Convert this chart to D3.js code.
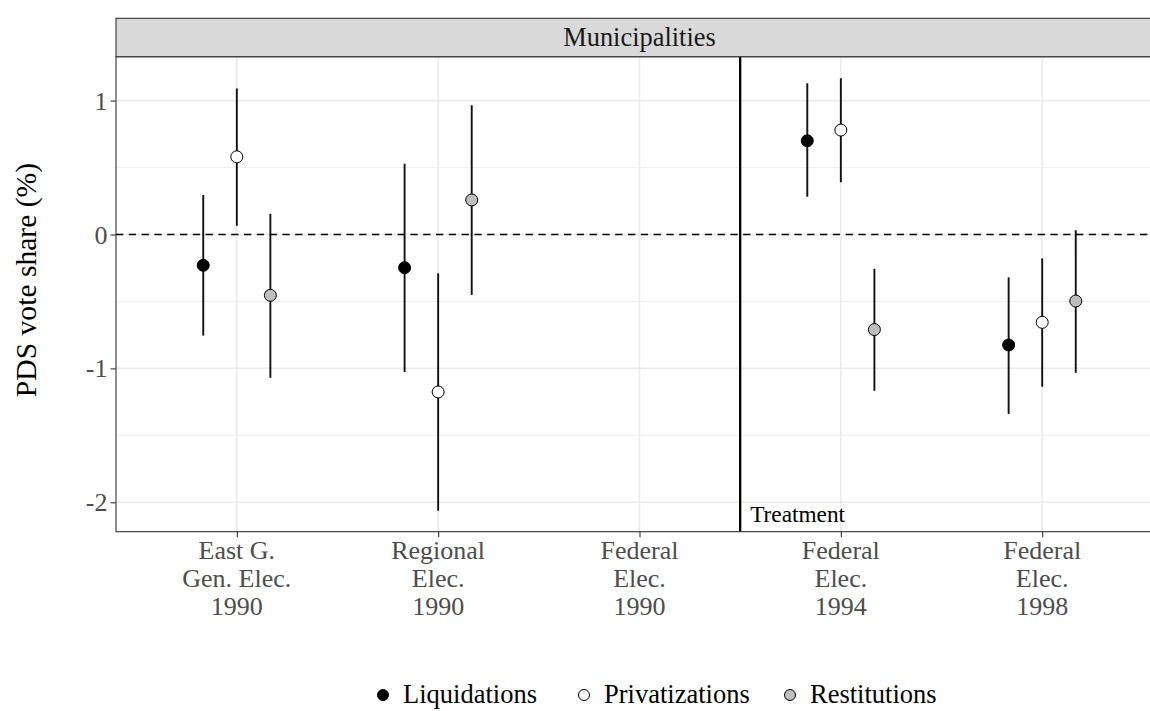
<!DOCTYPE html>
<html>
<head>
<meta charset="utf-8">
<script src="https://cdn.jsdelivr.net/npm/d3@7/dist/d3.min.js"></script>
<style>
    body { margin: 0; background: #fff; }
    svg { display: block; }
</style>
</head>
<body>
<svg id="chart"></svg>
<script>
// election categories (tick labels, one entry per line)
const categories = [
    ['East G.', 'Gen. Elec.', '1990'],
    ['Regional', 'Elec.', '1990'],
    ['Federal', 'Elec.', '1990'],
    ['Federal', 'Elec.', '1994'],
    ['Federal', 'Elec.', '1998']
];
const seriesNames = ['Liquidations', 'Privatizations', 'Restitutions'];
const seriesFill = ['#000000', '#ffffff', '#bebebe'];

// point estimates and confidence bounds, null = not estimated
const liqEstimate = [-0.23, -0.248, null, 0.70, -0.825];
const liqLower = [-0.755, -1.027, null, 0.282, -1.34];
const liqUpper = [0.295, 0.529, null, 1.129, -0.32];

const privEstimate = [0.58, -1.176, null, 0.78, -0.656];
const privLower = [0.066, -2.063, null, 0.39, -1.137];
const privUpper = [1.09, -0.29, null, 1.167, -0.178];

const restEstimate = [-0.454, 0.258, null, -0.71, -0.497];
const restLower = [-1.07, -0.451, null, -1.167, -1.033];
const restUpper = [0.155, 0.965, null, -0.256, 0.032];

const yTicks = [-2, -1, 0, 1];
const yMinorTicks = [-1.5, -0.5, 0.5];
const facetLabel = 'Municipalities';
const yTitle = 'PDS vote share (%)';
const treatmentLabel = 'Treatment';

const width = 1150;
const height = 711;
const font = '"Liberation Serif", "Times New Roman", serif';
const panel = { left: 116, right: 1163, top: 56.7, bottom: 531.7 };
const stripTop = 18.3;

let svg = d3.select('#chart')
    .attr('width', width)
    .attr('height', height)
    .style('font-family', font);

let catKeys = categories.map(c => c.join(' '));

let x = d3.scalePoint()
    .domain(catKeys)
    .range([panel.left, panel.right])
    .padding(0.6);

// dodge: 3 groups within 0.5 of a category step
let dodge = d3.scaleBand()
    .domain(seriesNames)
    .range([-0.25 * x.step(), 0.25 * x.step()]);

let y = d3.scaleLinear()
    .domain([-2.2196, 1.328])
    .range([panel.bottom, panel.top]);

let rows = [];
let series = [
    [liqEstimate, liqLower, liqUpper],
    [privEstimate, privLower, privUpper],
    [restEstimate, restLower, restUpper]
];
series.forEach((s, si) => {
    catKeys.forEach((k, ci) => {
        if (s[0][ci] !== null) {
            rows.push({ cat: k, name: seriesNames[si], fill: seriesFill[si],
                est: s[0][ci], lo: s[1][ci], hi: s[2][ci] });
        }
    });
});

let clip = svg.append('defs').append('clipPath').attr('id', 'panel-clip');
clip.append('rect')
    .attr('x', panel.left).attr('y', panel.top)
    .attr('width', panel.right - panel.left)
    .attr('height', panel.bottom - panel.top);

//grid
let grid = svg.append('g');
grid.selectAll('.minor')
    .data(yMinorTicks)
    .join('line')
    .attr('x1', panel.left).attr('x2', panel.right)
    .attr('y1', d => y(d)).attr('y2', d => y(d))
    .style('stroke', '#ebebeb').style('stroke-width', 0.8);
grid.selectAll('.major-y')
    .data(yTicks)
    .join('line')
    .attr('x1', panel.left).attr('x2', panel.right)
    .attr('y1', d => y(d)).attr('y2', d => y(d))
    .style('stroke', '#ebebeb').style('stroke-width', 1.6);
grid.selectAll('.major-x')
    .data(catKeys)
    .join('line')
    .attr('x1', d => x(d)).attr('x2', d => x(d))
    .attr('y1', panel.top).attr('y2', panel.bottom)
    .style('stroke', '#ebebeb').style('stroke-width', 1.6);

//zero reference line
svg.append('line')
    .attr('x1', panel.left).attr('x2', panel.right)
    .attr('y1', y(0)).attr('y2', y(0))
    .style('stroke', '#000')
    .style('stroke-width', 1.7)
    .style('stroke-dasharray', '7.3,5.5');

//treatment line
let treatX = (x(catKeys[2]) + x(catKeys[3])) / 2;
svg.append('line')
    .attr('x1', treatX).attr('x2', treatX)
    .attr('y1', panel.top).attr('y2', panel.bottom)
    .style('stroke', '#000')
    .style('stroke-width', 2.3);

svg.append('text')
    .text(treatmentLabel)
    .attr('x', treatX + 10)
    .attr('y', 521.5)
    .attr('fill', '#000')
    .attr('font-size', 23.3);

//error bars and points
let marks = svg.append('g').attr('clip-path', 'url(#panel-clip)');
marks.selectAll('.bar')
    .data(rows)
    .join('line')
    .attr('x1', d => x(d.cat) + dodge(d.name) + dodge.bandwidth() / 2)
    .attr('x2', d => x(d.cat) + dodge(d.name) + dodge.bandwidth() / 2)
    .attr('y1', d => y(d.lo))
    .attr('y2', d => y(d.hi))
    .style('stroke', '#111')
    .style('stroke-width', 1.9);
marks.selectAll('.pt')
    .data(rows)
    .join('circle')
    .attr('cx', d => x(d.cat) + dodge(d.name) + dodge.bandwidth() / 2)
    .attr('cy', d => y(d.est))
    .attr('r', 6)
    .style('fill', d => d.fill)
    .style('stroke', '#000')
    .style('stroke-width', 1);

//panel border
svg.append('rect')
    .attr('x', panel.left).attr('y', panel.top)
    .attr('width', panel.right - panel.left)
    .attr('height', panel.bottom - panel.top)
    .style('fill', 'none')
    .style('stroke', '#333')
    .style('stroke-width', 1.1);

//facet strip
svg.append('rect')
    .attr('x', panel.left).attr('y', stripTop)
    .attr('width', panel.right - panel.left)
    .attr('height', panel.top - stripTop)
    .style('fill', '#d9d9d9')
    .style('stroke', '#333')
    .style('stroke-width', 1.1);
svg.append('text')
    .text(facetLabel)
    .attr('x', (panel.left + panel.right) / 2)
    .attr('y', 45.5)
    .attr('text-anchor', 'middle')
    .attr('fill', '#1a1a1a')
    .attr('font-size', 26.4);

//y axis
let yAxis = svg.append('g')
    .attr('transform', 'translate(' + panel.left + ',0)')
    .call(d3.axisLeft(y).tickValues(yTicks).tickSize(5.5).tickPadding(3).tickFormat(d3.format('d')));
yAxis.select('.domain').remove();
yAxis.selectAll('line').style('stroke', '#333').style('stroke-width', 1.1);
yAxis.selectAll('text')
    .attr('fill', '#4d4d4d')
    .attr('font-size', 26)
    .attr('font-family', font)
    .attr('dy', '0.33em')
    .text(d => d < 0 ? '-' + Math.abs(d) : d);

//x axis
let xAxis = svg.append('g')
    .attr('transform', 'translate(0,' + panel.bottom + ')')
    .call(d3.axisBottom(x).tickSize(5.5).tickFormat(''));
xAxis.select('.domain').remove();
xAxis.selectAll('line').style('stroke', '#333').style('stroke-width', 1.1);

let xLabels = svg.append('g');
categories.forEach((lines, ci) => {
    let t = xLabels.append('text')
        .attr('x', x(catKeys[ci]))
        .attr('y', 559)
        .attr('text-anchor', 'middle')
        .attr('fill', '#4d4d4d')
        .attr('font-size', 26);
    lines.forEach((l, li) => {
        t.append('tspan')
            .attr('x', x(catKeys[ci]))
            .attr('dy', li === 0 ? 0 : 28)
            .text(l);
    });
});

//y title
svg.append('text')
    .text(yTitle)
    .attr('transform', 'translate(36,280) rotate(-90)')
    .attr('text-anchor', 'middle')
    .attr('fill', '#000')
    .attr('font-size', 29.6);

//legend
let legendX = [373, 574, 780];
let legend = svg.append('g');
seriesNames.forEach((name, i) => {
    legend.append('circle')
        .attr('cx', legendX[i] + 10)
        .attr('cy', 695)
        .attr('r', 5.5)
        .style('fill', seriesFill[i])
        .style('stroke', '#000')
        .style('stroke-width', 1);
    legend.append('text')
        .text(name)
        .attr('x', legendX[i] + 30)
        .attr('y', 703)
        .attr('fill', '#000')
        .attr('font-size', 26.5);
});
</script>
</body>
</html>
